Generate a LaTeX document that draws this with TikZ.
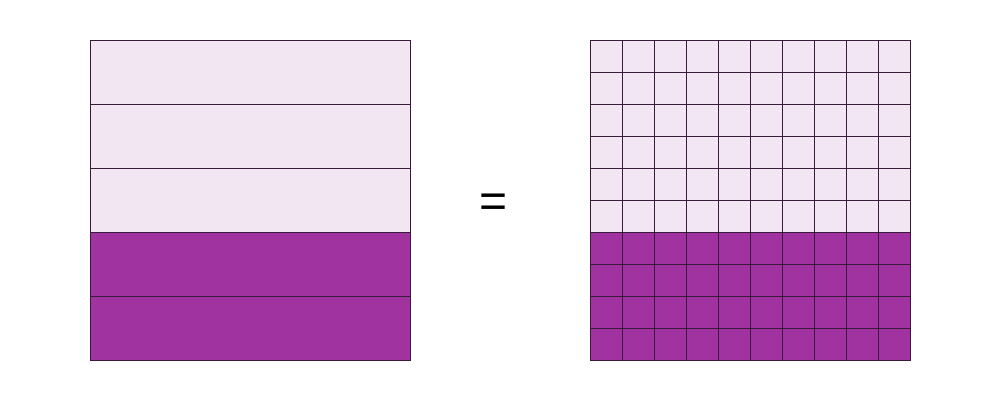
\documentclass[tikz,border=0pt]{standalone}
\usepackage{fontspec}
\setmainfont{Liberation Sans}
\definecolor{lightp}{HTML}{F2E6F2}
\definecolor{darkp}{HTML}{A033A0}
\definecolor{edgep}{HTML}{3A1A3A}
\begin{document}
\begin{tikzpicture}[x=1pt,y=-1pt,
  lightcell/.style={fill=lightp,draw=edgep,line width=1pt},
  darkcell/.style={fill=darkp,draw=edgep,line width=1pt}]
\useasboundingbox (0,0) rectangle (1000,400);
% left bar model
\foreach \i in {0,1,2} {
  \node[lightcell,minimum width=320pt,minimum height=64pt,inner sep=0pt,anchor=north west] (L\i) at (90,{40+64*\i}) {};
}
\foreach \i in {3,4} {
  \node[darkcell,minimum width=320pt,minimum height=64pt,inner sep=0pt,anchor=north west] (L\i) at (90,{40+64*\i}) {};
}
% equals
\node[font=\fontsize{48}{48}\selectfont,inner sep=0pt] (eq) at (494,206) {=};
% right grid
\foreach \r in {0,...,9} {
  \foreach \c in {0,...,9} {
    \ifnum\r<6
      \node[lightcell,minimum size=32pt,inner sep=0pt,anchor=north west] (G\r\c) at ({590+32*\c},{40+32*\r}) {};
    \else
      \node[darkcell,minimum size=32pt,inner sep=0pt,anchor=north west] (G\r\c) at ({590+32*\c},{40+32*\r}) {};
    \fi
  }
}
\end{tikzpicture}
\end{document}
